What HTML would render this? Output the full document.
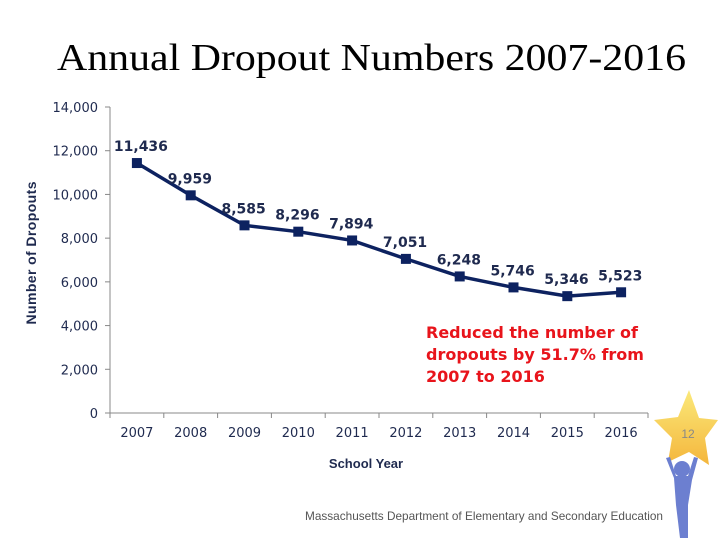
<!DOCTYPE html>
<html><head><meta charset="utf-8"><style>
html,body{margin:0;padding:0;background:#fff;width:720px;height:540px;overflow:hidden}
</style></head><body>
<svg width="720" height="540" viewBox="0 0 720 540" xmlns="http://www.w3.org/2000/svg">
<text x="57" y="70" font-family="Liberation Serif, serif" font-size="38" textLength="629" lengthAdjust="spacingAndGlyphs" fill="#000">Annual Dropout Numbers 2007-2016</text>
<g id="axes"></g>
<g id="marks"></g>
<text x="36" y="253" transform="rotate(-90 36 253)" text-anchor="middle" font-family="Liberation Sans, sans-serif" font-weight="bold" font-size="14" textLength="143" fill="#1f2a4f">Number of Dropouts</text>
<text x="366" y="468" text-anchor="middle" font-family="Liberation Sans, sans-serif" font-weight="bold" font-size="13" fill="#1f2a4f">School Year</text>
<g font-family="DejaVu Sans, sans-serif" font-weight="bold" font-size="16" fill="#e8141b">
<text x="426" y="338">Reduced the number of</text>
<text x="426" y="360">dropouts by 51.7% from</text>
<text x="426" y="382">2007 to 2016</text>
</g>
<text x="305" y="520" font-family="Liberation Sans, sans-serif" font-size="12" textLength="358" lengthAdjust="spacingAndGlyphs" fill="#555">Massachusetts Department of Elementary and Secondary Education</text>
<g>
<defs><linearGradient id="sg" x1="0" y1="0" x2="0" y2="1"><stop offset="0" stop-color="#fbe97a"/><stop offset="1" stop-color="#f4b63c"/></linearGradient></defs>
<polygon points="689,390 699,418 718,420 705,438 709,465 689,452 668,462 672,438 654,420 678,417" fill="url(#sg)"/>
<text x="688" y="438" text-anchor="middle" font-family="Liberation Sans, sans-serif" font-size="12" fill="#888">12</text>
<circle cx="682" cy="469" r="8" fill="#6c7fd0"/>
<path d="M666,458 L674,478 L676,505 L680,538 L688,538 L688,505 L692,480 L698,458 L694,457 L688,476 L676,476 L670,457Z" fill="#6c7fd0"/>
</g>
</svg>
<script>
const categories=["2007","2008","2009","2010","2011","2012","2013","2014","2015","2016"];
const values=[11436,9959,8585,8296,7894,7051,6248,5746,5346,5523];
const valueLabels=["11,436","9,959","8,585","8,296","7,894","7,051","6,248","5,746","5,346","5,523"];
const yTicks=[0,2000,4000,6000,8000,10000,12000,14000];
const yTickLabels=["0","2,000","4,000","6,000","8,000","10,000","12,000","14,000"];
const NS="http://www.w3.org/2000/svg";
const x0=110,x1=648,yB=413,yT=107,yMax=14000;
const band=(x1-x0)/categories.length;
const xS=i=>x0+band*(i+0.5);
const yS=v=>yB-(v/yMax)*(yB-yT);
function mk(t,a,p){const e=document.createElementNS(NS,t);for(const k in a)e.setAttribute(k,a[k]);p.appendChild(e);return e;}
const ax=document.getElementById('axes'),mg=document.getElementById('marks');
const yl=mk('line',{x1:x0,y1:yT,x2:x0,y2:yB,stroke:'#888','stroke-width':1},ax);


yTicks.forEach((v,i)=>{
 const y=yS(v);
 mk('line',{x1:x0-5,y1:y,x2:x0,y2:y,stroke:'#888'},ax);
 const t=mk('text',{x:x0-12,y:y+5,'text-anchor':'end','font-family':'DejaVu Sans, sans-serif','font-size':13,fill:'#1f2a4f'},ax);
 t.textContent=yTickLabels[i];
 
 
});
const xl=mk('line',{x1:x0,y1:yB,x2:x1,y2:yB,stroke:'#888'},ax);


for(let i=0;i<=categories.length;i++){const x=x0+band*i;mk('line',{x1:x,y1:yB,x2:x,y2:yB+5,stroke:'#888'},ax);}
categories.forEach((c,i)=>{
 const t=mk('text',{x:xS(i),y:yB+24,'text-anchor':'middle','font-family':'DejaVu Sans, sans-serif','font-size':13,fill:'#1f2a4f'},ax);
 t.textContent=c;
 
 
});
const pl=mk('polyline',{points:values.map((v,i)=>xS(i)+','+yS(v)).join(' '),fill:'none',stroke:'#0d2260','stroke-width':3.5},mg);


values.forEach((v,i)=>{
 const x=xS(i),y=yS(v);
 const r=mk('rect',{x:x-5,y:y-5,width:10,height:10,fill:'#0d2260'},mg);
 
 
 const t=mk('text',{x:x-23,y:y-12,'font-family':'DejaVu Sans, sans-serif','font-weight':'bold','font-size':14,fill:'#1f2a4f'},mg);
 t.textContent=valueLabels[i];
 
 
});
</script>
</body></html>
